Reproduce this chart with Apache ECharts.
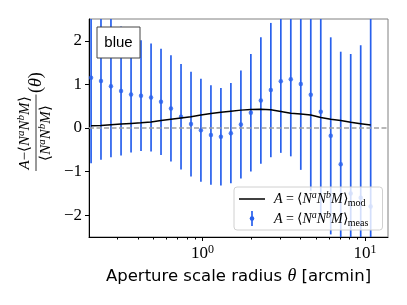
<!DOCTYPE html>
<html><head><meta charset="utf-8">
<script src="https://cdn.jsdelivr.net/npm/echarts@6/dist/echarts.min.js"></script>
<style>html,body{margin:0;padding:0;background:#fff}#c{width:407px;height:305px}</style>
</head><body><div id="c"></div>
<script>
// Aperture scale radius theta [arcmin]
const theta = [0.206, 0.237, 0.273, 0.315, 0.363, 0.418, 0.482, 0.555, 0.639, 0.737, 0.849, 0.977, 1.126, 1.297, 1.494, 1.722, 1.983, 2.285, 2.632, 3.032, 3.493, 4.024, 4.636, 5.341, 6.152, 7.087, 8.165, 9.406, 10.835];
// measured relative difference
const meas = [1.15, 1.08, 0.96, 0.85, 0.77, 0.74, 0.70, 0.60, 0.45, 0.26, 0.09, -0.05, -0.16, -0.20, -0.12, 0.08, 0.35, 0.63, 0.87, 1.07, 1.12, 1.01, 0.76, 0.37, -0.18, -0.83, -1.5, -1.6, -1.8];
// 1-sigma error bars
const measErr = [1.96, 1.81, 1.63, 1.48, 1.33, 1.27, 1.24, 1.22, 1.22, 1.21, 1.20, 1.18, 1.14, 1.12, 1.15, 1.24, 1.35, 1.45, 1.54, 1.64, 1.77, 1.97, 2.2, 2.45, 2.26, 2.58, 3.2, 3.5, 4.5];
// model curve
const model = [0.05, 0.06, 0.075, 0.09, 0.105, 0.12, 0.14, 0.17, 0.20, 0.23, 0.26, 0.30, 0.33, 0.36, 0.385, 0.41, 0.425, 0.43, 0.42, 0.38, 0.34, 0.32, 0.30, 0.24, 0.20, 0.17, 0.13, 0.10, 0.07];
// reference level across the axis range
const zeroLevel = [[0.2, 0], [13.85, 0]];
// ticks
const yTicks = [-2, -1, 0, 1, 2];
const xMajorTicks = [1, 10];
const xMinorTicks = [0.3, 0.4, 0.5, 0.6, 0.7, 0.8, 0.9, 2, 3, 4, 5, 6, 7, 8, 9];

const BLUE = '#2860ec';
const SERIF = 'Liberation Serif';
const SANS = 'DejaVu Sans';

const chart = echarts.init(document.getElementById('c'), null, {renderer: 'canvas'});

function mathRich(fs) {
  return {
    i: {fontFamily: SERIF, fontStyle: 'italic', fontSize: fs, color: '#000', lineHeight: fs + 4},
    r: {fontFamily: SERIF, fontSize: fs, color: '#000', lineHeight: fs + 4},
    sup: {fontFamily: SERIF, fontStyle: 'italic', fontSize: Math.round(fs * 0.7), color: '#000', verticalAlign: 'top', lineHeight: fs + 4},
    sub: {fontFamily: SERIF, fontSize: Math.round(fs * 0.7), color: '#000', verticalAlign: 'bottom', lineHeight: fs + 4}
  };
}
const bracket = '{r|⟨}{i|N}{sup|a}{i|N}{sup|b}{i|M}{r|⟩}';

chart.setOption({
  animation: false,
  grid: {left: 89, top: 19, width: 299, height: 218, show: true, borderColor: '#808080', borderWidth: 1, containLabel: false},
  xAxis: [{
    type: 'log', logBase: 10, min: 0.2, max: 13.85,
    axisLine: {show: true, onZero: false, lineStyle: {color: '#000', width: 1}},
    splitLine: {show: false},
    axisTick: {show: true, length: 4, lineStyle: {color: '#000'}, customValues: xMajorTicks},
    minorTick: {show: false},
    axisLabel: {
      customValues: xMajorTicks, margin: 7,
      formatter: v => '{b|10}{s|' + Math.round(Math.log10(v)) + '}',
      rich: {
        b: {fontFamily: SERIF, fontSize: 17, color: '#000', lineHeight: 20},
        s: {fontFamily: SERIF, fontSize: 12, color: '#000', verticalAlign: 'top', lineHeight: 20}
      }
    },
    name: 'Aperture scale radius {t|θ} [arcmin]',
    nameLocation: 'middle', nameGap: 29,
    nameTextStyle: {fontFamily: SANS, fontSize: 16.5, color: '#000',
      rich: {t: {fontFamily: SERIF, fontStyle: 'italic', fontSize: 18, color: '#000'}}}
  }, {
    type: 'log', logBase: 10, min: 0.2, max: 13.85, position: 'bottom',
    axisLine: {show: false, onZero: false}, splitLine: {show: false},
    axisTick: {show: true, length: 2.5, lineStyle: {color: '#000'}, customValues: xMinorTicks},
    axisLabel: {show: false}
  }],
  yAxis: {
    type: 'value', min: -2.5, max: 2.5,
    axisLine: {show: true, onZero: false, lineStyle: {color: '#000', width: 1}},
    splitLine: {show: false},
    axisTick: {show: true, length: 4, lineStyle: {color: '#000'}, customValues: yTicks},
    axisLabel: {customValues: yTicks, margin: 7, fontFamily: SERIF, fontSize: 17, color: '#000',
      formatter: v => (v < 0 ? '−' + Math.abs(v) : String(v))}
  },
  series: [{
    type: 'custom', name: 'errbar', clip: true, z: 2,
    data: theta.map((t, k) => [t, meas[k], measErr[k]]),
    renderItem: (params, api) => {
      const x = api.value(0), y = api.value(1), e = api.value(2);
      const p1 = api.coord([x, y - e]);
      const p2 = api.coord([x, y + e]);
      return {type: 'line', shape: {x1: p1[0], y1: p1[1], x2: p2[0], y2: p2[1]},
        style: {stroke: BLUE, lineWidth: 1.7}};
    }
  }, {
    type: 'scatter', name: 'meas', z: 3, symbol: 'circle', symbolSize: 4.5,
    itemStyle: {color: BLUE}, data: theta.map((t, k) => [t, meas[k]])
  }, {
    type: 'line', name: 'zero', z: 4, showSymbol: false, symbol: 'none', silent: true,
    lineStyle: {color: '#a0a0a0', type: [5, 2.5], width: 1.3},
    data: zeroLevel
  }, {
    type: 'line', name: 'mod', z: 5, showSymbol: false, symbol: 'none',
    lineStyle: {color: '#000', width: 1.5},
    data: theta.map((t, k) => [t, model[k]])
  }],
  graphic: [
    // "blue" box
    {type: 'rect', z: 100, shape: {x: 97, y: 27, width: 43, height: 31},
      style: {fill: '#fff', stroke: '#444', lineWidth: 1}},
    {type: 'text', z: 101, x: 118.5, y: 43,
      style: {text: 'blue', fontFamily: 'Liberation Sans', fontSize: 15, fill: '#000', align: 'center', verticalAlign: 'middle'}},
    // legend
    {type: 'rect', z: 100, shape: {x: 234, y: 187, width: 148.5, height: 43, r: 3},
      style: {fill: 'rgba(255,255,255,0.8)', stroke: '#d0d0d0', lineWidth: 1}},
    {type: 'line', z: 101, shape: {x1: 239, y1: 199, x2: 265, y2: 199},
      style: {stroke: '#000', lineWidth: 1.5}},
    {type: 'line', z: 101, shape: {x1: 252, y1: 211, x2: 252, y2: 226},
      style: {stroke: BLUE, lineWidth: 1.7}},
    {type: 'circle', z: 101, shape: {cx: 252, cy: 218.5, r: 2.3}, style: {fill: BLUE}},
    {type: 'text', z: 101, x: 274, y: 199,
      style: {text: '{i|A}{r| = }' + bracket + '{sub|mod}', rich: mathRich(14), verticalAlign: 'middle'}},
    {type: 'text', z: 101, x: 274, y: 219,
      style: {text: '{i|A}{r| = }' + bracket + '{sub|meas}', rich: mathRich(14), verticalAlign: 'middle'}},
    // y-axis label (rotated fraction)
    {type: 'group', x: 36, y: 133, rotation: Math.PI / 2, children: [
      {type: 'line', shape: {x1: -38, y1: 0, x2: 38.5, y2: 0}, style: {stroke: '#000', lineWidth: 0.8}},
      {type: 'text', x: 0, y: -1,
        style: {text: '{i|A}{r|−}' + bracket, rich: mathRich(15), align: 'center', verticalAlign: 'bottom'}},
      {type: 'text', x: 0, y: 1,
        style: {text: bracket, rich: mathRich(15), align: 'center', verticalAlign: 'top'}},
      {type: 'text', x: 40, y: 0,
        style: {text: '({t|θ})', fontFamily: SERIF, fontSize: 18, fill: '#000', align: 'left', verticalAlign: 'middle',
          rich: {t: {fontFamily: SERIF, fontStyle: 'italic', fontSize: 18, color: '#000'}}}}
    ]}
  ]
});
</script></body></html>
